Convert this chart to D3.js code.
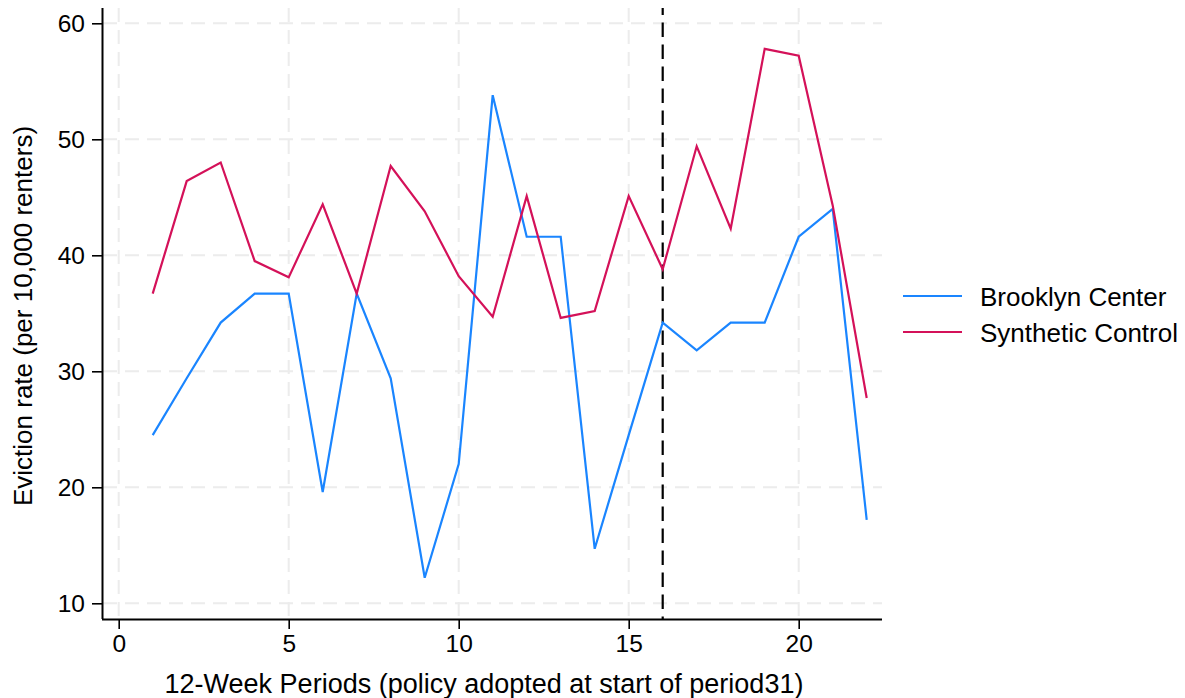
<!DOCTYPE html>
<html>
<head>
<meta charset="utf-8">
<script src="https://cdn.jsdelivr.net/npm/d3@7"></script>
<style>
  body { margin: 0; background: #fff; }
  text { font-family: Arial, "Liberation Sans", sans-serif; fill: #000; }
</style>
</head>
<body>
<svg id="chart" width="1185" height="698"></svg>
<script>
// data
const periods = d3.range(1, 23);
const brooklyn = [24.5, 29.4, 34.2, 36.7, 36.7, 19.6, 36.7, 29.4, 12.2, 22.0, 53.8,
                  41.6, 41.6, 14.7, 24.5, 34.2, 31.8, 34.2, 34.2, 41.6, 44.0, 17.2];
const synthetic = [36.7, 46.4, 48.0, 39.5, 38.1, 44.4, 36.7, 47.7, 43.8, 38.2, 34.7,
                   45.1, 34.6, 35.2, 45.1, 38.8, 49.4, 42.3, 57.8, 57.2, 44.3, 27.7];
const xTicks = [0, 5, 10, 15, 20];
const yTicks = [10, 20, 30, 40, 50, 60];
const policyPeriod = 16;

const series = [
  { name: "Brooklyn Center", values: brooklyn, color: "#1a85ff" },
  { name: "Synthetic Control", values: synthetic, color: "#d41159" }
];

const svg = d3.select("#chart");

// plot region
const plotL = 102, plotR = 882, plotT = 8, plotB = 619;

const x = d3.scaleLinear().domain([0, 20]).range([118.7, 118.7 + 20 * 34]);
const y = d3.scaleLinear().domain([10, 60]).range([603.3, 23.3]);

// grid lines (light dashed)
const grid = svg.append("g");
grid.selectAll(".gx").data(xTicks).join("line")
  .attr("x1", d => x(d)).attr("x2", d => x(d))
  .attr("y1", plotT).attr("y2", plotB)
  .attr("stroke", "#ececec").attr("stroke-width", 2)
  .attr("stroke-dasharray", "14,8");
grid.selectAll(".gy").data(yTicks).join("line")
  .attr("x1", plotL + 1).attr("x2", plotR)
  .attr("y1", d => y(d)).attr("y2", d => y(d))
  .attr("stroke", "#ececec").attr("stroke-width", 2)
  .attr("stroke-dasharray", "14,8");

// policy line
svg.append("line")
  .attr("x1", x(policyPeriod)).attr("x2", x(policyPeriod))
  .attr("y1", plotT).attr("y2", plotB)
  .attr("stroke", "#000").attr("stroke-width", 2.2)
  .attr("stroke-dasharray", "14.6,7.4")
  .attr("stroke-dashoffset", 7.6);

// series lines
const line = d3.line()
  .x((d, i) => x(periods[i]))
  .y(d => y(d));

svg.selectAll(".series").data(series).join("path")
  .attr("d", d => line(d.values))
  .attr("fill", "none")
  .attr("stroke", d => d.color)
  .attr("stroke-width", 2.2)
  .attr("stroke-linejoin", "miter");

// axes
const xAxis = svg.append("g")
  .attr("transform", `translate(0,${plotB})`)
  .call(d3.axisBottom(x).tickValues(xTicks).tickSize(10).tickPadding(6));
xAxis.select(".domain").attr("d", `M${plotL},0.5H${plotR}`).attr("stroke-width", 2);

const yAxis = svg.append("g")
  .attr("transform", `translate(${plotL},0)`)
  .call(d3.axisLeft(y).tickValues(yTicks).tickSize(10).tickPadding(7));
yAxis.select(".domain").attr("d", `M0.5,${plotT}V${plotB}`).attr("stroke-width", 2);

svg.selectAll(".tick line").attr("stroke-width", 1.6);
svg.selectAll(".tick text").style("font-size", "24.5px")
  .style("font-family", "Arial, 'Liberation Sans', sans-serif");

// axis titles
svg.append("text")
  .attr("x", 484).attr("y", 693)
  .attr("text-anchor", "middle").style("font-size", "27px")
  .text("12-Week Periods (policy adopted at start of period31)");

svg.append("text")
  .attr("transform", `translate(31.5,316) rotate(-90)`)
  .attr("text-anchor", "middle").style("font-size", "26px")
  .text("Eviction rate (per 10,000 renters)");

// legend
const legend = svg.append("g").attr("transform", "translate(903,296)");
const item = legend.selectAll("g").data(series).join("g")
  .attr("transform", (d, i) => `translate(0,${i * 36})`);
item.append("line")
  .attr("x1", 0).attr("x2", 59)
  .attr("stroke", d => d.color).attr("stroke-width", 2.2);
item.append("text")
  .attr("x", 77).attr("y", 9.5)
  .style("font-size", "26px")
  .text(d => d.name);
</script>
</body>
</html>
